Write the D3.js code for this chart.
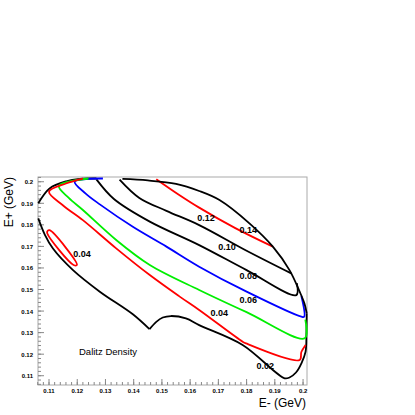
<!DOCTYPE html>
<html><head><meta charset="utf-8">
<script src="https://cdn.jsdelivr.net/npm/d3@7"></script>
<style>body{margin:0;background:#fff}text{font-family:"Liberation Sans",Arial,sans-serif}</style>
</head><body><div id="chart"></div>
<script>
// data in GeV
const xTicks = [0.11,0.12,0.13,0.14,0.15,0.16,0.17,0.18,0.19,0.2];
const yTicks = [0.11,0.12,0.13,0.14,0.15,0.16,0.17,0.18,0.19,0.2];

const boundary = [[0.1062,0.190],[0.1102,0.1969],[0.1161,0.2002],[0.1209,0.2013],[0.1268,0.2015]];
const boundaryLow = [[0.1062,0.183],[0.1085,0.1755],[0.1114,0.1690],[0.1185,0.1590],[0.128,0.1490],[0.1397,0.1385],[0.1456,0.1316]];
const bump = [[0.1456,0.1316],[0.1480,0.1350],[0.1503,0.1370],[0.1532,0.1377],[0.1585,0.1366],[0.1632,0.1335],
  [0.1786,0.1243],[0.1935,0.1088],[0.1952,0.1092],[0.1975,0.1115],[0.1995,0.1160],[0.2009,0.1212],[0.2012,0.130],[0.2013,0.139]];
const arc = [[0.2013,0.139],[0.2005,0.1435],[0.1988,0.1490],[0.1952,0.1590],[0.1893,0.1699],[0.181,0.1807],
  [0.1704,0.1915],[0.1632,0.1957],[0.155,0.1990],[0.145,0.2006],[0.136,0.2013]];
const c14 = [[0.148,0.2012],[0.1560,0.1940],[0.1632,0.1880],[0.1760,0.1785],[0.1893,0.1699]];
const c12 = [[0.135,0.2010],[0.1420,0.1925],[0.1516,0.1865],[0.1632,0.1799],[0.1800,0.1680],[0.1958,0.1575]];
const c10 = [[0.1268,0.2011],[0.1330,0.1920],[0.1457,0.1815],[0.1632,0.1706],[0.1800,0.1590],[0.1976,0.1474],[0.1978,0.1530]];
const c08 = [[0.1291,0.2015],[0.1191,0.2],[0.1230,0.1945],[0.128,0.1895],[0.1397,0.1791],[0.1516,0.1699],[0.1632,0.1606],[0.1800,0.1490],[0.1994,0.1374],[0.2004,0.1374],[0.1994,0.147]];
const c06 = [[0.124,0.2015],[0.1135,0.198],[0.1170,0.1925],[0.122,0.1869],[0.1338,0.1730],[0.1457,0.1614],[0.1632,0.1498],[0.1800,0.1395],[0.2006,0.1274],[0.2008,0.136]];
const c04 = [[0.122,0.2015],[0.116,0.1992],[0.11,0.1954],[0.1150,0.1890],[0.122,0.1822],[0.1338,0.1691],[0.1457,0.1567],[0.1563,0.1467],
  [0.1632,0.1405],[0.1786,0.1258],[0.1798,0.1250],[0.1988,0.1173],[0.1994,0.1210],[0.2009,0.1243]];
const loop04 = [[0.1094,0.1771],[0.1102,0.1775],[0.1199,0.1614],[0.1187,0.1614],[0.1094,0.1760],[0.1094,0.1771]];

const labels = [["0.12",0.1625,0.1818],["0.14",0.1775,0.1763],["0.10",0.1700,0.1685],["0.08",0.1775,0.1548],
  ["0.06",0.1775,0.1438],["0.04",0.1672,0.1378],["0.02",0.1835,0.1130],["0.04",0.1186,0.1650]];

const W = 415, H = 415;
const svg = d3.select("#chart").append("svg").attr("width", W).attr("height", H);
const x = d3.scaleLinear().domain([0.1061,0.2014]).range([38,307]);
const y = d3.scaleLinear().domain([0.1057,0.2022]).range([385,177]);

svg.append("rect").attr("x",38).attr("y",177).attr("width",269).attr("height",208)
  .attr("fill","none").attr("stroke","#aaa");

// ticks inside the frame, ROOT style
const xMinor = d3.range(0.106,0.2014,0.002);
svg.selectAll(".xmin").data(xMinor).enter().append("line")
  .attr("x1",d=>x(d)).attr("x2",d=>x(d)).attr("y1",385).attr("y2",382).attr("stroke","#888");
svg.selectAll(".xmaj").data(xTicks).enter().append("line")
  .attr("x1",d=>x(d)).attr("x2",d=>x(d)).attr("y1",385).attr("y2",379).attr("stroke","#888");
const yMinor = d3.range(0.106,0.2022,0.002);
svg.selectAll(".ymin").data(yMinor).enter().append("line")
  .attr("y1",d=>y(d)).attr("y2",d=>y(d)).attr("x1",38).attr("x2",41).attr("stroke","#888");
svg.selectAll(".ymaj").data(yTicks).enter().append("line")
  .attr("y1",d=>y(d)).attr("y2",d=>y(d)).attr("x1",38).attr("x2",44).attr("stroke","#888");

svg.selectAll(".xl").data(xTicks).enter().append("text")
  .attr("x",d=>x(d)).attr("y",393).attr("text-anchor","middle").attr("font-size",6).attr("font-weight","bold")
  .text(d=>d3.format("")(d));
svg.selectAll(".yl").data(yTicks).enter().append("text")
  .attr("x",33).attr("y",d=>y(d)+2.5).attr("text-anchor","end").attr("font-size",6).attr("font-weight","bold")
  .text(d=>d3.format("")(d));

svg.append("text").attr("x",306).attr("y",407).attr("text-anchor","end").attr("font-size",12).text("E- (GeV)");
svg.append("text").attr("transform","translate(13,177) rotate(-90)").attr("text-anchor","end")
  .attr("font-size",12).text("E+ (GeV)");
svg.append("text").attr("x",79).attr("y",355).attr("font-size",9.5).text("Dalitz Density");

const line = d3.line().x(d=>x(d[0])).y(d=>y(d[1])).curve(d3.curveCatmullRom.alpha(0.5));
const curves = [[boundary,"#000"],[boundaryLow,"#000"],[bump,"#000"],[c14,"red"],[c12,"#000"],[c10,"#000"],
  [c08,"blue"],[c06,"#0e0"],[c04,"red"],[loop04,"red"],[arc,"#000"]];
svg.selectAll(".c").data(curves).enter().append("path")
  .attr("d",d=>line(d[0])).attr("fill","none").attr("stroke",d=>d[1]).attr("stroke-width",1.8);

svg.selectAll(".lab").data(labels).enter().append("text")
  .attr("x",d=>x(d[1])).attr("y",d=>y(d[2])).attr("font-size",9).attr("font-weight","bold").text(d=>d[0]);
</script></body></html>
